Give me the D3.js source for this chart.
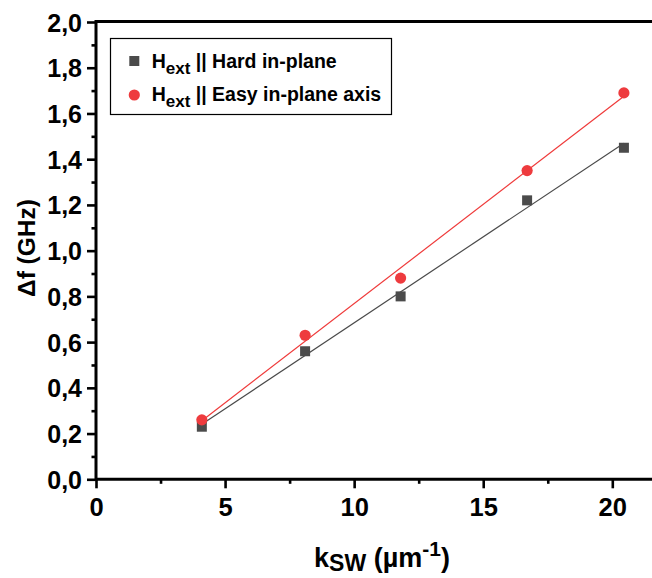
<!DOCTYPE html>
<html>
<head>
<meta charset="utf-8">
<script src="https://cdn.jsdelivr.net/npm/d3@7"></script>
<style>
  html, body { margin: 0; padding: 0; background: #fff; }
  svg { display: block; font-family: "Liberation Sans", Arial, sans-serif; }
</style>
</head>
<body>
<svg id="chart" width="652" height="578"></svg>
<script>
// ---- data ----
const kswHard = [4.1, 8.1, 11.8, 16.7, 20.45];
const dfHard  = [0.23, 0.56, 0.80, 1.22, 1.45];
const kswEasy = [4.1, 8.1, 11.8, 16.7, 20.45];
const dfEasy  = [0.26, 0.63, 0.88, 1.35, 1.69];
const xTicks = [0, 5, 10, 15, 20];
const xMinorTicks = [2.5, 7.5, 12.5, 17.5];
const yTicks = [0, 0.2, 0.4, 0.6, 0.8, 1.0, 1.2, 1.4, 1.6, 1.8, 2.0];
const yMinorTicks = [0.1, 0.3, 0.5, 0.7, 0.9, 1.1, 1.3, 1.5, 1.7, 1.9];
const legendLabels = ["|| Hard in-plane", "|| Easy in-plane axis"];

// ---- layout ----
const W = 652, H = 578;
const mLeft = 96, mTop = 22, mBottom = 479.3;
const x = d3.scaleLinear().domain([0, 20]).range([mLeft, 612.3]);
const y = d3.scaleLinear().domain([0, 2]).range([mBottom, mTop]);
const fmt = d => d3.format(".1f")(d).replace(".", ",");

const svg = d3.select("#chart");
const col = { hard: "#4b4b4b", easy: "#ee3b3e", hardLine: "#4a4a4a", easyLine: "#ef3a3a" };

// least-squares fit helper (derived from data)
function fit(xs, ys) {
  const mx = d3.mean(xs), my = d3.mean(ys);
  const sxy = d3.sum(xs, (v, i) => (v - mx) * (ys[i] - my));
  const sxx = d3.sum(xs, v => (v - mx) ** 2);
  const b = sxy / sxx, a = my - b * mx;
  const x0 = d3.min(xs), x1 = d3.max(xs);
  return [[x0, a + b * x0], [x1, a + b * x1]];
}

// ---- axes ----
const gx = svg.append("g").attr("transform", `translate(0,${mBottom})`);
gx.call(d3.axisBottom(x).tickValues(xMinorTicks).tickSize(4.5).tickFormat(""));
gx.select(".domain").remove();
const gx2 = svg.append("g").attr("transform", `translate(0,${mBottom})`);
gx2.call(d3.axisBottom(x).tickValues(xTicks).tickSize(9).tickPadding(9).tickFormat(d3.format("d")));
gx2.select(".domain").remove();
[gx, gx2].forEach(g => g.selectAll("line").attr("stroke", "#000").attr("stroke-width", 2.6));
gx2.selectAll("text")
  .attr("fill", "#000").attr("font-size", 25.5).attr("font-weight", "bold")
  .attr("dy", null).attr("y", 36.4);

const gy = svg.append("g").attr("transform", `translate(${mLeft},0)`);
gy.call(d3.axisLeft(y).tickValues(yMinorTicks).tickSize(4.5).tickFormat(""));
gy.select(".domain").remove();
const gy2 = svg.append("g").attr("transform", `translate(${mLeft},0)`);
gy2.call(d3.axisLeft(y).tickValues(yTicks).tickSize(9).tickFormat(fmt));
gy2.select(".domain").remove();
[gy, gy2].forEach(g => g.selectAll("line").attr("stroke", "#000").attr("stroke-width", 2.6));
gy2.selectAll("text")
  .attr("fill", "#000").attr("font-size", 25).attr("font-weight", "bold")
  .attr("x", -14).attr("dy", "0.36em");

// frame lines (plot frame extends past the right edge)
svg.append("line").attr("x1", mLeft).attr("x2", W + 5).attr("y1", mBottom).attr("y2", mBottom)
  .attr("stroke", "#000").attr("stroke-width", 3);
svg.append("line").attr("x1", mLeft).attr("x2", W + 5).attr("y1", mTop - 0.5).attr("y2", mTop - 0.5)
  .attr("stroke", "#000").attr("stroke-width", 3);
svg.append("line").attr("x1", mLeft).attr("x2", mLeft).attr("y1", mTop - 2).attr("y2", mBottom + 1.5)
  .attr("stroke", "#000").attr("stroke-width", 3);

// ---- fit lines ----
const line = d3.line().x(d => x(d[0])).y(d => y(d[1]));
svg.append("path").attr("d", line(fit(kswHard, dfHard))).attr("fill", "none")
  .attr("stroke", col.hardLine).attr("stroke-width", 1.2);
svg.append("path").attr("d", line(fit(kswEasy, dfEasy))).attr("fill", "none")
  .attr("stroke", col.easyLine).attr("stroke-width", 1.2);

// ---- markers ----
const sq = 10;
svg.append("g").selectAll("rect").data(kswHard).join("rect")
  .attr("x", (d) => x(d) - sq / 2).attr("y", (d, i) => y(dfHard[i]) - sq / 2)
  .attr("width", sq).attr("height", sq).attr("fill", col.hard);
svg.append("g").selectAll("circle").data(kswEasy).join("circle")
  .attr("cx", d => x(d)).attr("cy", (d, i) => y(dfEasy[i])).attr("r", 5.6)
  .attr("fill", col.easy);

// ---- axis titles ----
const yt = svg.append("text").attr("transform", "translate(35,248) rotate(-90)")
  .attr("text-anchor", "middle").attr("font-size", 24.5).attr("font-weight", "bold").attr("fill", "#000");
yt.text("Δf (GHz)");

const xt = svg.append("text").attr("x", 382).attr("y", 567).attr("text-anchor", "middle")
  .attr("font-size", 27).attr("font-weight", "bold").attr("fill", "#000");
xt.append("tspan").text("k");
xt.append("tspan").attr("dy", 4).attr("font-size", 23).text("SW");
xt.append("tspan").attr("dy", -4).text(" (µm");
xt.append("tspan").attr("dy", -11).attr("font-size", 21).text("-1");
xt.append("tspan").attr("dy", 11).text(")");

// ---- legend ----
const lg = svg.append("g");
lg.append("rect").attr("x", 110.5).attr("y", 38.5).attr("width", 281).attr("height", 76)
  .attr("fill", "#fff").attr("stroke", "#000").attr("stroke-width", 1.2);
lg.append("rect").attr("x", 134.3 - 5).attr("y", 61 - 5).attr("width", 10).attr("height", 10).attr("fill", col.hard);
lg.append("circle").attr("cx", 134.3).attr("cy", 95).attr("r", 5.6).attr("fill", col.easy);
legendLabels.forEach((lab, i) => {
  const t = lg.append("text").attr("x", 151.7).attr("y", i === 0 ? 67.7 : 100.5)
    .attr("font-size", 19.5).attr("font-weight", "bold").attr("fill", "#000");
  t.append("tspan").text("H");
  t.append("tspan").attr("dy", 6.5).attr("font-size", 17).text("ext");
  t.append("tspan").attr("dy", -6.5).text(" " + lab);
});
</script>
</body>
</html>
